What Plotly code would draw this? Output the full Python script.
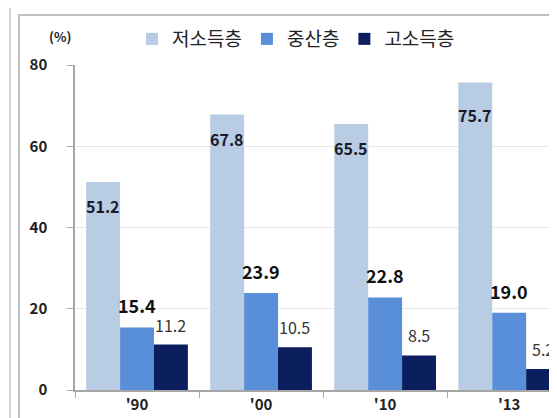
import plotly.graph_objects as go

categories = ["'90", "'00", "'10", "'13"]
low_income = [51.2, 67.8, 65.5, 75.7]
middle_class = [15.4, 23.9, 22.8, 19.0]
high_income = [11.2, 10.5, 8.5, 5.2]
series_names = ["저소득층", "중산층", "고소득층"]
y_ticks = [0, 20, 40, 60, 80]

FONT = "Noto Sans CJK KR, Noto Sans, sans-serif"
W, H = 557, 418
L, R, T, B = 67, 0, 57, 36
PW, PH = W - L - R, H - T - B
X_RANGE = [-0.5, 3.45]
BARGAP = 0.18


def px_x(px):
    return (px - L) / PW


def px_y(py):
    return (H - B - py) / PH


cat_px = PW / (X_RANGE[1] - X_RANGE[0])
bar_px = cat_px * (1 - BARGAP) / 3

colors = ["#b8cce4", "#588fd8", "#0b1f5e"]
series = [low_income, middle_class, high_income]

fig = go.Figure()
for name, vals, col in zip(series_names, series, colors):
    fig.add_trace(go.Bar(
        x=categories, y=vals, name=name,
        marker=dict(color=col, line=dict(width=0)),
        hoverinfo="x+y+name",
    ))

# data label styles (per-series), plus small per-category vertical nudges
label_styles = [
    dict(offset=-1, yanchor="top", yshift=-11, nudge=[0, 0, 0, -9],
         font=dict(family=FONT, size=16, color="#1a1a2a", weight="bold")),
    dict(offset=0, yanchor="bottom", yshift=8, nudge=[0, 0, 0, 0],
         font=dict(family=FONT, size=18, color="#111111", weight="bold")),
    dict(offset=1, yanchor="bottom", yshift=7, nudge=[0, 0, 0, 0],
         font=dict(family=FONT, size=16, color="#333333")),
]
annotations = []
for vals, st in zip(series, label_styles):
    for cat, v, nd in zip(categories, vals, st["nudge"]):
        annotations.append(dict(
            x=cat, y=v, xref="x", yref="y", text=f"{v:.1f}",
            showarrow=False, xanchor="center", yanchor=st["yanchor"],
            xshift=st["offset"] * bar_px, yshift=st["yshift"] + nd,
            font=st["font"], borderpad=0,
        ))

annotations.append(dict(
    text="<b>(%)</b>", x=px_x(52), y=px_y(28), xref="paper", yref="paper",
    showarrow=False, font=dict(family=FONT, size=13, color="#222222"),
    xanchor="center", yanchor="middle",
))

fig.update_layout(
    width=W, height=H,
    margin=dict(l=L, r=R, t=T, b=B, pad=0, autoexpand=False),
    paper_bgcolor="white", plot_bgcolor="white",
    barmode="group", bargap=BARGAP, bargroupgap=0,
    font=dict(family=FONT, color="#222222"),
    showlegend=True,
    legend=dict(
        orientation="h", x=px_x(124), y=px_y(31), xanchor="left", yanchor="middle",
        font=dict(family=FONT, size=19, color="#222222"),
        bgcolor="rgba(0,0,0,0)",
        traceorder="normal",
    ),
    xaxis=dict(
        type="category", range=X_RANGE,
        showline=True, linecolor="#a6a6a6", linewidth=1.5,
        ticks="outside", tickson="boundaries", ticklen=6, tickcolor="#a6a6a6",
        tickfont=dict(family=FONT, size=15, color="#222222", weight="bold"),
        ticklabelstandoff=0,
        showgrid=False, zeroline=False, automargin=False,
    ),
    yaxis=dict(
        range=[0, 80], tickvals=y_ticks,
        showline=True, linecolor="#a6a6a6", linewidth=1.5,
        ticks="outside", ticklen=6, tickcolor="#a6a6a6",
        tickfont=dict(family=FONT, size=15, color="#222222", weight="bold"),
        ticklabelstandoff=17,
        showgrid=True, gridcolor="#e8e8e8", gridwidth=1,
        zeroline=False, automargin=False,
    ),
    annotations=annotations,
    shapes=[
        dict(type="rect", xref="paper", yref="paper",
             x0=px_x(11), x1=px_x(620), y0=px_y(430), y1=px_y(7),
             line=dict(color="#c0c0c0", width=2), fillcolor="rgba(0,0,0,0)",
             layer="below"),
        dict(type="line", xref="paper", yref="paper",
             x0=px_x(2), x1=px_x(2), y0=px_y(430), y1=px_y(0),
             line=dict(color="#c8c8c8", width=1.5)),
    ],
)

fig.write_html("out.html")
